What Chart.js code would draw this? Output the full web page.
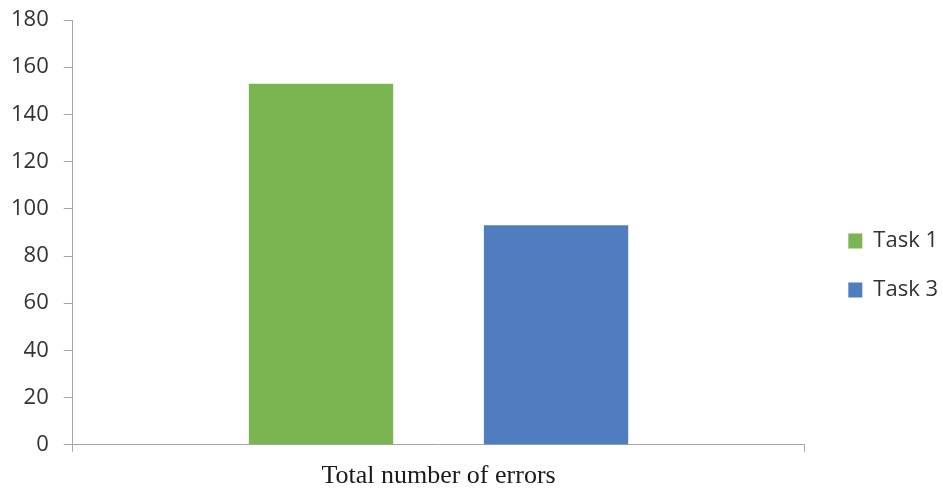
<!DOCTYPE html>
<html>
<head>
<meta charset="utf-8">
<script src="https://cdn.jsdelivr.net/npm/chart.js@4"></script>
<style>
  html, body { margin: 0; padding: 0; background: #ffffff; }
  #wrap { width: 943px; height: 489px; }
</style>
</head>
<body>
<div id="wrap"><canvas id="c" width="943" height="489"></canvas></div>
<script>
// Category and series values
const categories = ['Total number of errors'];
const seriesNames = ['Task 1', 'Task 3'];
const task1Values = [153];
const task3Values = [93];
const yTicks = [0, 20, 40, 60, 80, 100, 120, 140, 160, 180];

const axisGray = '#a6a6a6';

new Chart(document.getElementById('c'), {
  type: 'bar',
  data: {
    labels: categories,
    datasets: [
      { label: seriesNames[0], data: task1Values, backgroundColor: '#7ab552' },
      { label: seriesNames[1], data: task3Values, backgroundColor: '#4f7dc0' }
    ]
  },
  options: {
    responsive: false,
    devicePixelRatio: 1,
    animation: false,
    categoryPercentage: 0.6426,
    barPercentage: 0.614,
    layout: { padding: { top: 0, left: -4, right: -5, bottom: -12 } },
    plugins: {
      tooltip: { enabled: false },
      legend: {
        position: 'right',
        align: 'center',
        title: { display: true, text: ' ', font: { size: 10, lineHeight: 1 }, padding: 10 },
        labels: {
          font: { family: 'Open Sans', size: 22 },
          color: '#333333',
          boxWidth: 14,
          boxHeight: 15,
          padding: 27
        }
      }
    },
    scales: {
      x: {
        grid: { display: true, drawOnChartArea: false, offset: true, tickLength: 7, color: axisGray },
        border: { color: axisGray, width: 1 },
        ticks: {
          font: { family: 'Liberation Serif', size: 26 },
          color: '#1a1a1a',
          padding: 9
        }
      },
      y: {
        min: 0,
        max: 180,
        afterBuildTicks: (axis) => { axis.ticks = yTicks.map(v => ({ value: v })); },
        grid: { display: true, drawOnChartArea: false, tickLength: 9, color: axisGray },
        border: { color: axisGray, width: 1 },
        ticks: {
          font: { family: 'Open Sans', size: 22, lineHeight: 0.455 },
          color: '#333333',
          padding: 15
        }
      },
      // empty strip between the plot and the legend
      gap: {
        type: 'linear',
        position: 'right',
        grid: { display: false },
        border: { display: false },
        ticks: { display: false },
        afterFit: (axis) => { axis.width = 17; }
      }
    }
  }
});
</script>
</body>
</html>
